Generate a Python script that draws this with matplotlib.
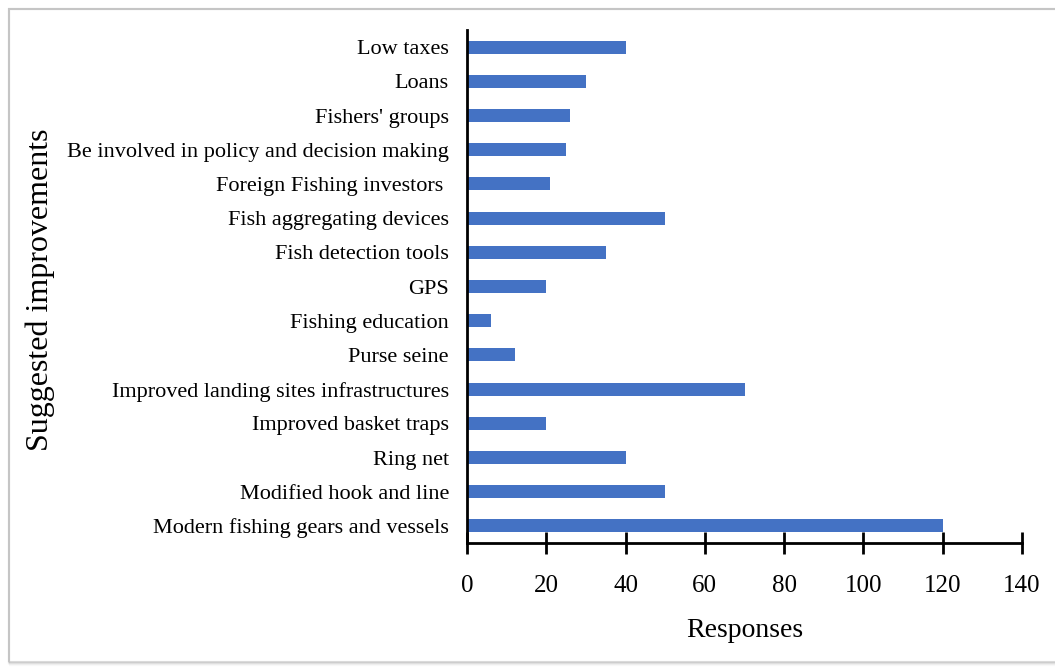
import matplotlib.pyplot as plt
from matplotlib.patches import Rectangle

# categories, top to bottom as shown
labels = [
    'Low taxes',
    'Loans',
    "Fishers' groups",
    'Be involved in policy and decision making',
    'Foreign Fishing investors ',
    'Fish aggregating devices',
    'Fish detection tools',
    'GPS',
    'Fishing education',
    'Purse seine',
    'Improved landing sites infrastructures',
    'Improved basket traps',
    'Ring net',
    'Modified hook and line',
    'Modern fishing gears and vessels',
]
responses = [40, 30, 26, 25, 21, 50, 35, 20, 6, 12, 70, 20, 40, 50, 120]
xticks = [0, 20, 40, 60, 80, 100, 120, 140]

plt.rcParams['font.family'] = ['Liberation Serif', 'DejaVu Serif']

fig = plt.figure(figsize=(10.55, 6.67), dpi=100)
W, H = 1055, 667

# soft grey frame around the whole figure
for i, a in enumerate([0.35, 0.2, 0.1, 0.05]):
    fig.patches.append(Rectangle((9 / W, (5 - i) / H), 1.2, (653 + i) / H,
                                 transform=fig.transFigure, fill=False,
                                 edgecolor='#9a9a9a', alpha=a, lw=1.5))

ax = fig.add_axes([467 / W, (H - 543) / H, (1022 - 467) / W, (543 - 30) / H])

ypos = list(range(len(labels)))
ax.barh(ypos, responses, height=0.38, color='#4472c4')
ax.set_ylim(len(labels) - 0.5, -0.5)
ax.set_xlim(0, 140)
ax.set_xticks(xticks)
ax.set_yticks(ypos)
ax.set_yticklabels(labels)

for s in ['top', 'right']:
    ax.spines[s].set_visible(False)
for s in ['left', 'bottom']:
    ax.spines[s].set_linewidth(2)
    ax.spines[s].set_color('black')

ax.tick_params(axis='x', direction='inout', length=16, width=2, labelsize=18, pad=15)
ax.tick_params(axis='y', length=0, labelsize=16, pad=13)

ax.set_xlabel('Responses', fontsize=20, labelpad=15)
fig.text(40 / W, 1 - 290 / H, 'Suggested improvements', rotation=90,
         ha='center', va='center', fontsize=23)

fig.savefig('out.png', dpi=100)
